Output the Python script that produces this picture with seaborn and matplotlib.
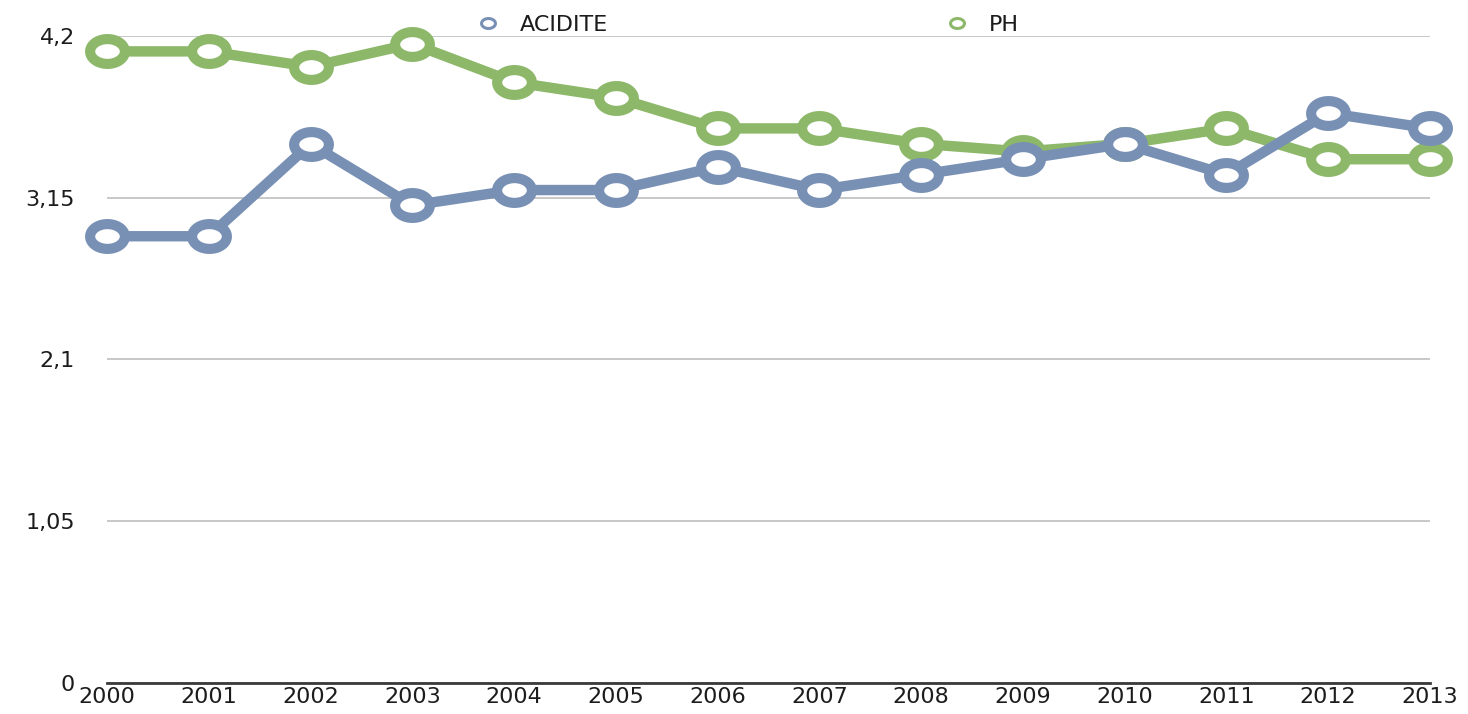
import numpy as np
import pandas as pd
import matplotlib
matplotlib.use("Agg")
import matplotlib.pyplot as plt
from matplotlib.path import Path
from matplotlib.lines import Line2D
import seaborn as sns

# values
years = list(range(2000, 2014))
acidite = [2.9, 2.9, 3.5, 3.1, 3.2, 3.2, 3.35, 3.2, 3.3, 3.4, 3.5, 3.3, 3.7, 3.6]
ph = [4.1, 4.1, 4.0, 4.15, 3.9, 3.8, 3.6, 3.6, 3.5, 3.45, 3.5, 3.6, 3.4, 3.4]
series_names = ["ACIDITE", "PH"]
series_colors = ["#7990b5", "#8db86a"]
y_ticks = [0, 1.05, 2.1, 3.15, 4.2]
y_tick_labels = ["0", "1,05", "2,1", "3,15", "4,2"]

df = pd.DataFrame({
    "Annee": years * 2,
    "Valeur": acidite + ph,
    "Serie": ["ACIDITE"] * len(years) + ["PH"] * len(years),
})
palette = dict(zip(series_names, series_colors))

sns.set_theme(style="white")
plt.rcParams["font.family"] = ["DejaVu Sans"]

# slightly wide ring marker (source picture is stretched horizontally)
t = np.linspace(0, 2 * np.pi, 120)
ring = Path(np.column_stack([1.4 * np.cos(t), np.sin(t)]), closed=True)

fig, ax = plt.subplots(figsize=(14.68, 7.14), dpi=100)
fig.subplots_adjust(left=0.0729, right=0.974, bottom=0.0434, top=0.9496)

# PH first so ACIDITE sits on top, like the original
sns.lineplot(data=df, x="Annee", y="Valeur", hue="Serie", hue_order=["PH", "ACIDITE"],
             palette=palette, marker=ring, markersize=25, markeredgewidth=7.3,
             linewidth=7.5, ax=ax, legend=False, clip_on=False, zorder=3)
for ln in ax.lines:
    ln.set_markerfacecolor("white")
    ln.set_markeredgecolor(ln.get_color())
    ln.set_solid_joinstyle("round")

ax.set_xlim(2000, 2013)
ax.set_ylim(0, 4.2)
ax.set_xticks(years)
ax.set_xticklabels([str(y) for y in years], fontsize=16, color="#1c1c1c")
ax.set_yticks(y_ticks)
ax.set_yticklabels(y_tick_labels, fontsize=16, color="#1c1c1c")
ax.tick_params(axis="y", length=0, pad=23)
ax.tick_params(axis="x", length=0, pad=3)
ax.set_xlabel("")
ax.set_ylabel("")

ax.yaxis.grid(True, color="#c4c4c4", linewidth=1.3)
ax.set_axisbelow(True)
for side in ["top", "right", "left"]:
    ax.spines[side].set_visible(False)
ax.spines["bottom"].set_color("#3a3a3a")
ax.spines["bottom"].set_linewidth(2)

handles = [Line2D([], [], marker=ring, markersize=10, markeredgewidth=2.2,
                  markerfacecolor="white", markeredgecolor=c, linestyle="")
           for c in series_colors]
fig.legend(handles, series_names, ncol=2, loc="center left",
           bbox_to_anchor=(0.3247, 0.965), bbox_transform=fig.transFigure,
           frameon=False, fontsize=16, handlelength=1.0, handletextpad=0.95,
           columnspacing=15.2, borderpad=0, borderaxespad=0,
           labelcolor="#1c1c1c")

fig.savefig("out.png", dpi=100)
